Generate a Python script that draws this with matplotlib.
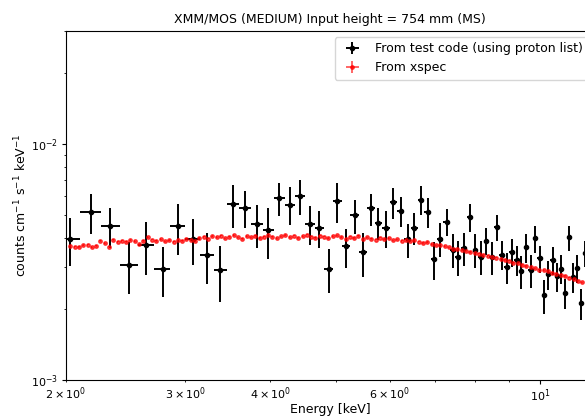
import numpy as np
import matplotlib
matplotlib.use("Agg")
import matplotlib.pyplot as plt

# test-code spectrum (0.15 keV bins), flux in units of 1e-3
energy = [2.025, 2.175, 2.325, 2.475, 2.625, 2.775, 2.925, 3.075, 3.225, 3.375,
          3.525, 3.675, 3.825, 3.975, 4.125, 4.275, 4.425, 4.575, 4.725, 4.875,
          5.025, 5.175, 5.325, 5.475, 5.625, 5.775, 5.925, 6.075, 6.225, 6.375,
          6.525, 6.675, 6.825, 6.975, 7.125, 7.275, 7.425, 7.575, 7.725, 7.875,
          8.025, 8.175, 8.325, 8.475, 8.625, 8.775, 8.925, 9.075, 9.225, 9.375,
          9.525, 9.675, 9.825, 9.975, 10.125, 10.275, 10.425, 10.575, 10.725, 10.875,
          11.025, 11.175, 11.325, 11.475, 11.625]
flux = [3.95, 5.15, 4.49, 3.08, 3.72, 2.94, 4.48, 3.94, 3.38, 2.92,
        5.54, 5.37, 4.57, 4.31, 5.90, 5.53, 5.98, 4.57, 4.39, 2.96,
        5.73, 3.68, 4.97, 3.47, 5.32, 4.64, 4.39, 5.66, 5.21, 3.94,
        4.42, 5.80, 5.15, 3.24, 3.97, 4.68, 3.56, 3.31, 3.61, 4.91,
        3.56, 3.33, 3.89, 3.32, 4.43, 3.39, 3.00, 3.48, 3.23, 2.89,
        3.64, 2.92, 3.98, 3.27, 2.28, 2.80, 3.22, 2.75, 2.96, 2.34,
        4.01, 2.73, 2.98, 2.11, 3.44]
flux_err = [0.91, 0.99, 0.88, 0.76, 0.95, 0.70, 1.09, 0.87, 0.82, 0.78,
            1.16, 0.95, 0.94, 1.05, 0.95, 1.00, 1.01, 0.86, 0.78, 0.63,
            1.12, 0.69, 0.82, 0.73, 0.82, 0.72, 0.78, 0.85, 0.75, 0.65,
            0.68, 0.80, 0.76, 0.58, 0.66, 0.63, 0.58, 0.55, 0.57, 0.66,
            0.58, 0.55, 0.50, 0.53, 0.57, 0.47, 0.45, 0.46, 0.47, 0.46,
            0.50, 0.46, 0.52, 0.42, 0.37, 0.39, 0.43, 0.39, 0.42, 0.34,
            0.49, 0.40, 0.41, 0.31, 0.42]
bin_half = 0.075

# xspec model points, flux in units of 1e-3
xs_energy = [2.029, 2.059, 2.090, 2.120, 2.152, 2.183, 2.215, 2.248, 2.281, 2.315,
             2.348, 2.383, 2.418, 2.453, 2.489, 2.526, 2.563, 2.601, 2.639, 2.678,
             2.717, 2.757, 2.798, 2.839, 2.881, 2.923, 2.966, 3.010, 3.054, 3.099,
             3.144, 3.190, 3.237, 3.285, 3.333, 3.382, 3.432, 3.482, 3.533, 3.585,
             3.638, 3.691, 3.746, 3.801, 3.857, 3.913, 3.971, 4.029, 4.089, 4.149,
             4.210, 4.272, 4.334, 4.398, 4.463, 4.528, 4.595, 4.662, 4.731, 4.801,
             4.872, 4.943, 5.016, 5.090, 5.165, 5.241, 5.318, 5.396, 5.476, 5.556,
             5.638, 5.721, 5.805, 5.891, 5.977, 6.065, 6.154, 6.245, 6.337, 6.430,
             6.525, 6.621, 6.718, 6.817, 6.917, 7.019, 7.122, 7.227, 7.333, 7.441,
             7.551, 7.662, 7.775, 7.889, 8.005, 8.123, 8.242, 8.364, 8.487, 8.611,
             8.738, 8.867, 8.997, 9.129, 9.264, 9.400, 9.538, 9.679, 9.821, 9.966,
             10.112, 10.261, 10.412, 10.565, 10.721, 10.878, 11.038, 11.201, 11.366, 11.533,
             11.702, 11.875]
xs_flux = [3.70, 3.66, 3.67, 3.71, 3.73, 3.64, 3.70, 3.89, 3.79, 3.66,
           3.93, 3.85, 3.89, 3.85, 3.90, 3.87, 3.76, 3.89, 4.01, 3.92,
           3.88, 3.95, 3.86, 3.90, 3.84, 3.93, 3.89, 3.97, 3.91, 3.86,
           3.99, 4.03, 3.96, 4.05, 4.01, 4.07, 3.98, 4.04, 4.10, 4.02,
           3.97, 4.06, 4.01, 4.08, 3.99, 4.04, 4.11, 4.03, 3.98, 4.06,
           4.09, 4.02, 4.07, 3.99, 4.05, 4.12, 4.03, 4.00, 4.08, 4.04,
           3.98, 4.06, 4.10, 4.01, 3.96, 4.03, 3.99, 4.07, 3.95, 4.01,
           3.97, 3.93, 4.00, 3.94, 3.98, 3.91, 3.95, 3.89, 3.92, 3.86,
           3.90, 3.84, 3.80, 3.83, 3.76, 3.72, 3.74, 3.68, 3.64, 3.60,
           3.57, 3.55, 3.50, 3.48, 3.45, 3.43, 3.38, 3.36, 3.31, 3.29,
           3.26, 3.22, 3.20, 3.14, 3.12, 3.07, 3.04, 3.00, 2.97, 2.93,
           2.91, 2.88, 2.85, 2.82, 2.79, 2.76, 2.71, 2.68, 2.63, 2.59,
           2.55, 2.52]

scale = 1e-3
plt.rcParams["font.size"] = 9
plt.rcParams["xtick.labelsize"] = 8
plt.rcParams["ytick.labelsize"] = 8
plt.rcParams["xtick.major.size"] = 3
plt.rcParams["ytick.major.size"] = 3
plt.rcParams["xtick.minor.size"] = 1.7
plt.rcParams["ytick.minor.size"] = 1.7
plt.rcParams["xtick.major.pad"] = 2
plt.rcParams["ytick.major.pad"] = 2.5
plt.rcParams["xtick.minor.pad"] = 2

fig = plt.figure(figsize=(5.85, 4.17), dpi=100)
ax = fig.add_axes([66 / 585, 37 / 417, 528 / 585, 349 / 417])

ax.errorbar(energy, np.array(flux) * scale, xerr=bin_half, yerr=np.array(flux_err) * scale,
            fmt=".", color="k", lw=1.4, label="From test code (using proton list)")
ax.errorbar(xs_energy, np.array(xs_flux) * scale, xerr=0.004, yerr=0.02 * scale,
            fmt=".", color="r", ms=5, lw=1.2, alpha=0.7, label="From xspec")

ax.set_xscale("log")
ax.set_yscale("log")
ax.set_xlim(2, 12)
ax.set_ylim(1e-3, 3e-2)
ax.set_xlabel("Energy [keV]", labelpad=-0.5)
ax.set_ylabel("counts cm$^{-1}$ s$^{-1}$ keV$^{-1}$", labelpad=1.5)
ax.set_title("XMM/MOS (MEDIUM) Input height = 754 mm (MS)", fontsize=9)
ax.legend(loc="upper right")

fig.savefig("out.png", dpi=100)
